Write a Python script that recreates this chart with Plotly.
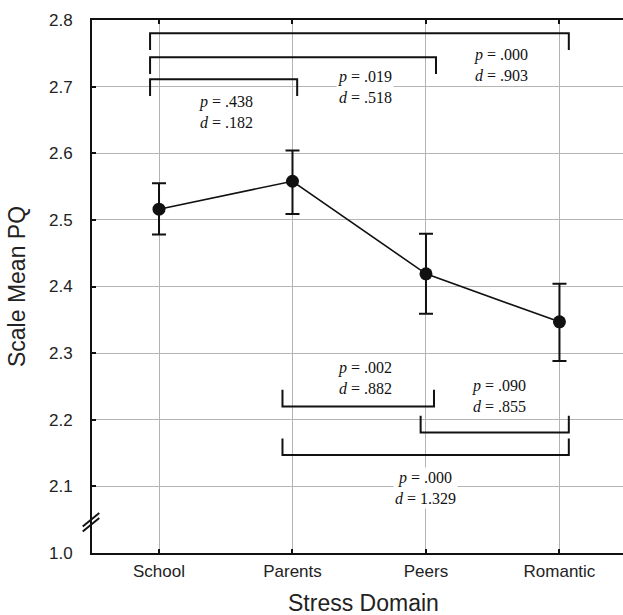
import plotly.graph_objects as go

# ---- data ----
categories = ["School", "Parents", "Peers", "Romantic"]
means = [2.516, 2.558, 2.419, 2.347]
ci_upper = [2.555, 2.604, 2.479, 2.404]
ci_lower = [2.478, 2.509, 2.359, 2.288]

ytick_vals = [2.0, 2.1, 2.2, 2.3, 2.4, 2.5, 2.6, 2.7, 2.8]
ytick_text = ["1.0", "2.1", "2.2", "2.3", "2.4", "2.5", "2.6", "2.7", "2.8"]

# comparison brackets: (left x, right x, bar level, tick direction)
bracket_left = [-0.067, -0.067, -0.067, 0.925, 1.96, 0.925]
bracket_right = [1.035, 2.075, 3.07, 2.06, 3.07, 3.07]
bracket_level = [2.711, 2.744, 2.780, 2.220, 2.181, 2.147]
bracket_dir = [-1, -1, -1, 1, 1, 1]
tick_len = 0.025

stat_p = [".438", ".019", ".000", ".002", ".090", ".000"]
stat_d = [".182", ".518", ".903", ".882", ".855", "1.329"]
stat_x = [0.5, 1.54, 2.56, 1.54, 2.55, 2.0]
stat_y = [2.662, 2.700, 2.733, 2.262, 2.236, 2.097]
stat_bg = [False, True, False, False, False, True]

x_idx = list(range(len(categories)))
err_plus = [u - m for u, m in zip(ci_upper, means)]
err_minus = [m - l for m, l in zip(means, ci_lower)]

ink = "#111111"

fig = go.Figure()
fig.add_trace(go.Scatter(
    x=x_idx, y=means, mode="lines+markers",
    line=dict(color=ink, width=1.6),
    marker=dict(color=ink, size=13),
    error_y=dict(type="data", symmetric=False, array=err_plus,
                 arrayminus=err_minus, color=ink, thickness=2, width=7),
    showlegend=False, cliponaxis=False,
))

shapes = []
for x0, x1, yb, dr in zip(bracket_left, bracket_right, bracket_level, bracket_dir):
    yt = yb + dr * tick_len
    shapes.append(dict(type="path", xref="x", yref="y",
                       path=f"M {x0},{yt} L {x0},{yb} L {x1},{yb} L {x1},{yt}",
                       line=dict(color=ink, width=2), layer="above"))

# axis-break marks
for dy in (0.0, -0.0094):
    shapes.append(dict(type="line", xref="paper", yref="paper",
                       x0=-0.0175, y0=0.0499 + dy, x1=0.0137, y1=0.075 + dy,
                       line=dict(color=ink, width=2)))

annotations = []
for p, d, x, y, bg in zip(stat_p, stat_d, stat_x, stat_y, stat_bg):
    annotations.append(dict(
        x=x, y=y, xref="x", yref="y", showarrow=False,
        text=f"<i>p</i> = {p}<br><i>d</i> = {d}",
        font=dict(family="Liberation Serif", size=16, color=ink),
        bgcolor="white" if bg else None, borderpad=1,
    ))

# x-axis title (placed as annotation so it can sit at the very bottom)
annotations.append(dict(
    x=1.53, y=-0.1205, xref="x", yref="paper", xanchor="center", yanchor="bottom",
    showarrow=False, text="Stress Domain", borderpad=0,
    font=dict(family="Liberation Sans", size=23, color="#222222"),
))

fig.update_layout(
    width=623, height=615,
    margin=dict(l=92, r=0, t=20, b=62, autoexpand=False),
    paper_bgcolor="white", plot_bgcolor="white",
    shapes=shapes, annotations=annotations,
    font=dict(family="Liberation Sans", color="#222222"),
)
fig.update_xaxes(
    range=[-0.502, 3.476], tickvals=x_idx, ticktext=categories,
    showgrid=True, gridcolor="#b4b4b4", gridwidth=1,
    showline=True, linecolor=ink, linewidth=2, mirror="ticks",
    ticks="inside", ticklen=4, tickwidth=2, tickcolor=ink,
    tickfont=dict(size=17), ticklabelstandoff=2, automargin=False,
    zeroline=False,
)
fig.update_yaxes(
    range=[2.0, 2.8], tickvals=ytick_vals, ticktext=ytick_text,
    showgrid=True, gridcolor="#b4b4b4", gridwidth=1,
    showline=True, linecolor=ink, linewidth=2,
    ticks="inside", ticklen=4, tickwidth=2, tickcolor=ink,
    tickfont=dict(size=17), ticklabelstandoff=14, automargin=False,
    title=dict(text="Scale Mean PQ", font=dict(size=23), standoff=17),
    zeroline=False,
)

fig.write_html("out.html")
